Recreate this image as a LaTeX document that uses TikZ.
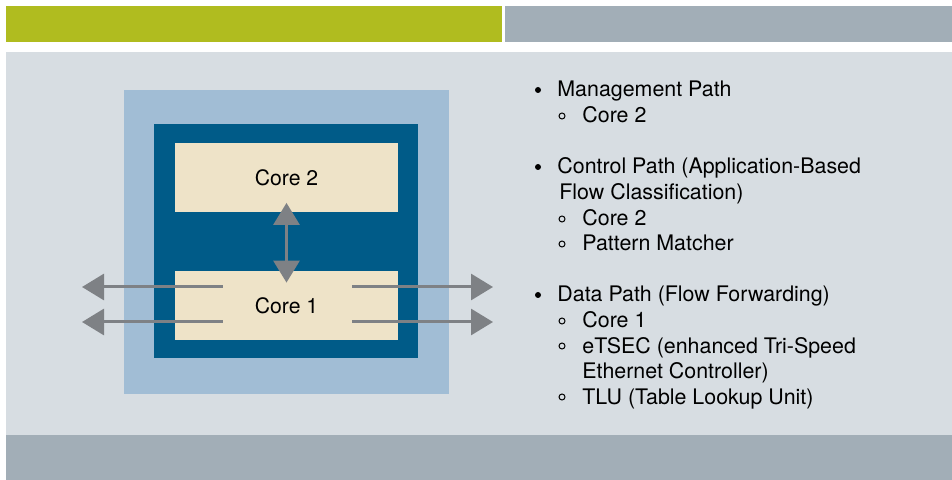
\documentclass[tikz,border=0pt]{standalone}
\usepackage{fontspec}
\setmainfont{TeX Gyre Heros}
\usetikzlibrary{arrows.meta}
\definecolor{barGreen}{HTML}{B0BC1F}
\definecolor{barGray}{HTML}{A2AEB7}
\definecolor{panelGray}{HTML}{D7DDE2}
\definecolor{outerBlue}{HTML}{A1BDD5}
\definecolor{innerBlue}{HTML}{005B88}
\definecolor{coreCream}{HTML}{EEE3C8}
\definecolor{arrowGray}{HTML}{7E8185}
\tikzset{
  core/.style={fill=coreCream, inner sep=0pt, minimum width=111.5pt, minimum height=34.5pt,
    font=\fontsize{10.6pt}{12pt}\selectfont},
  item/.style={anchor=base west, inner sep=0pt, font=\fontsize{10.7pt}{12pt}\selectfont},
  link/.style={draw=arrowGray, line width=1.5pt, -{Triangle[length=11pt,width=13pt]}},
  dlink/.style={draw=arrowGray, line width=1.5pt, {Triangle[length=11pt,width=13pt]}-{Triangle[length=11pt,width=13pt]}},
  dot/.style={fill=black},
  ring/.style={draw=black, line width=0.5pt}
}
\begin{document}
\begin{tikzpicture}[x=0.5pt,y=-0.5pt]
  \useasboundingbox (0,0) rectangle (952,480);
  % bars and panel
  \fill[barGreen] (6,6) rectangle (502,42);
  \fill[barGray] (505,6) rectangle (952,42);
  \fill[panelGray] (6,52) rectangle (952,435);
  \fill[barGray] (6,435) rectangle (952,480);
  % chip
  \fill[outerBlue] (124,90) rectangle (449,394);
  \fill[innerBlue] (154,124) rectangle (418,358);
  \node[core] (c2) at (286.5,178) {Core 2};
  \node[core] (c1) at (286.5,305.5) {Core 1};
  \draw[dlink] ([yshift=5pt]c2.south) -- ([yshift=-6pt]c1.north);
  % ports
  \coordinate (l1) at (82,287);
  \coordinate (l2) at (82,322);
  \coordinate (r1) at (493,287);
  \coordinate (r2) at (493,322);
  \draw[link] ([xshift=24pt,yshift=9.25pt]c1.west) -- (l1);
  \draw[link] ([xshift=24pt,yshift=-8.25pt]c1.west) -- (l2);
  \draw[link] ([xshift=-23pt,yshift=9.25pt]c1.east) -- (r1);
  \draw[link] ([xshift=-23pt,yshift=-8.25pt]c1.east) -- (r2);
  % list
  \fill[dot] (538,90) circle (3);
  \node[item] (mgmt) at (557,97) {Management Path};
  \draw[ring] (562,116) circle (3);
  \node[item] (mgmtA) at (582,123) {Core 2};
  \fill[dot] (538,167) circle (3);
  \node[item] (ctrl) at (557,174) {Control Path (Application-Based};
  \node[item] (ctrlB) at (559,200) {Flow Classification)};
  \draw[ring] (562,219) circle (3);
  \node[item] (ctrlA) at (582,225.5) {Core 2};
  \draw[ring] (562,244) circle (3);
  \node[item] (ctrlC) at (582,251) {Pattern Matcher};
  \fill[dot] (538,295) circle (3);
  \node[item] (data) at (557,301.5) {Data Path (Flow Forwarding)};
  \draw[ring] (562,321) circle (3);
  \node[item] (dataA) at (582,327.5) {Core 1};
  \draw[ring] (562,346) circle (3);
  \node[item] (dataB) at (582,353) {eTSEC (enhanced Tri-Speed};
  \node[item] (dataC) at (582,379) {Ethernet Controller)};
  \draw[ring] (562,397) circle (3);
  \node[item] (dataD) at (582,404) {TLU (Table Lookup Unit)};
\end{tikzpicture}
\end{document}
